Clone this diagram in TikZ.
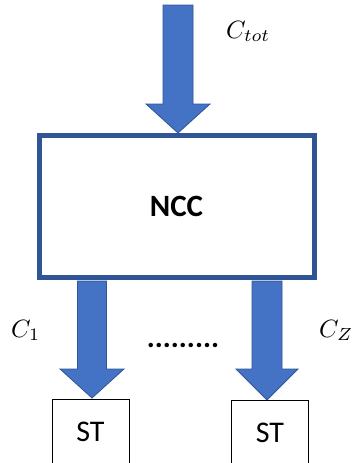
\documentclass[tikz,border=0pt]{standalone}
\usepackage{graphicx}
\usepackage{fontspec}
\setmainfont{Carlito}
\newcommand{\biglab}[1]{\scalebox{2.5}{$#1$}}
\begin{document}
\begin{tikzpicture}[x=1pt,y=-1pt,
  blockarrow/.style={fill=arrowfill,draw=boxblue,line width=0.8pt,line join=miter},
  ncbox/.style={draw=boxblue,line width=5pt,fill=white,minimum width=275pt,minimum height=142pt,inner sep=0pt,font=\fontsize{31}{34}\selectfont\bfseries},
  stbox/.style={draw=black,line width=0.9pt,fill=white,minimum width=77pt,minimum height=66pt,inner sep=0pt,font=\fontsize{30}{34}\selectfont},
  clabel/.style={inner sep=0pt}]
\definecolor{boxblue}{HTML}{2F5597}
\definecolor{arrowfill}{HTML}{4472C4}
\useasboundingbox (0,0) rectangle (351,463);
\clip (0,0) rectangle (351,463);
% top arrow
\draw[blockarrow] (163,5) -- (193,5) -- (193,104) -- (210,104) -- (178,133) -- (146,104) -- (163,104) -- cycle;
% NCC box
\node[ncbox] (ncc) at (176.5,206) {NCC};
% bottom arrows
\draw[blockarrow] (77.5,281) -- (106.5,281) -- (106.5,369) -- (124,369) -- (92,398) -- (60,369) -- (77.5,369) -- cycle;
\draw[blockarrow] (252,281) -- (282,281) -- (282,369) -- (298,369) -- (267,400) -- (236,369) -- (252,369) -- cycle;
% ST boxes
\node[stbox] (st1) at (90.5,432) {ST};
\node[stbox] (st2) at (270,433) {ST};
% labels
\node[clabel,anchor=base west] (ctot) at (226,38) {\biglab{C_{tot}}};
\node[clabel,anchor=base west] (c1) at (11,337) {\biglab{C_{1}}};
\node[clabel,anchor=base west] (cz) at (319,337) {\biglab{C_{Z}}};
\node[inner sep=0pt,anchor=base,font=\fontsize{30}{34}\selectfont\bfseries] (dots) at (183,347) {.........};
\end{tikzpicture}
\end{document}
